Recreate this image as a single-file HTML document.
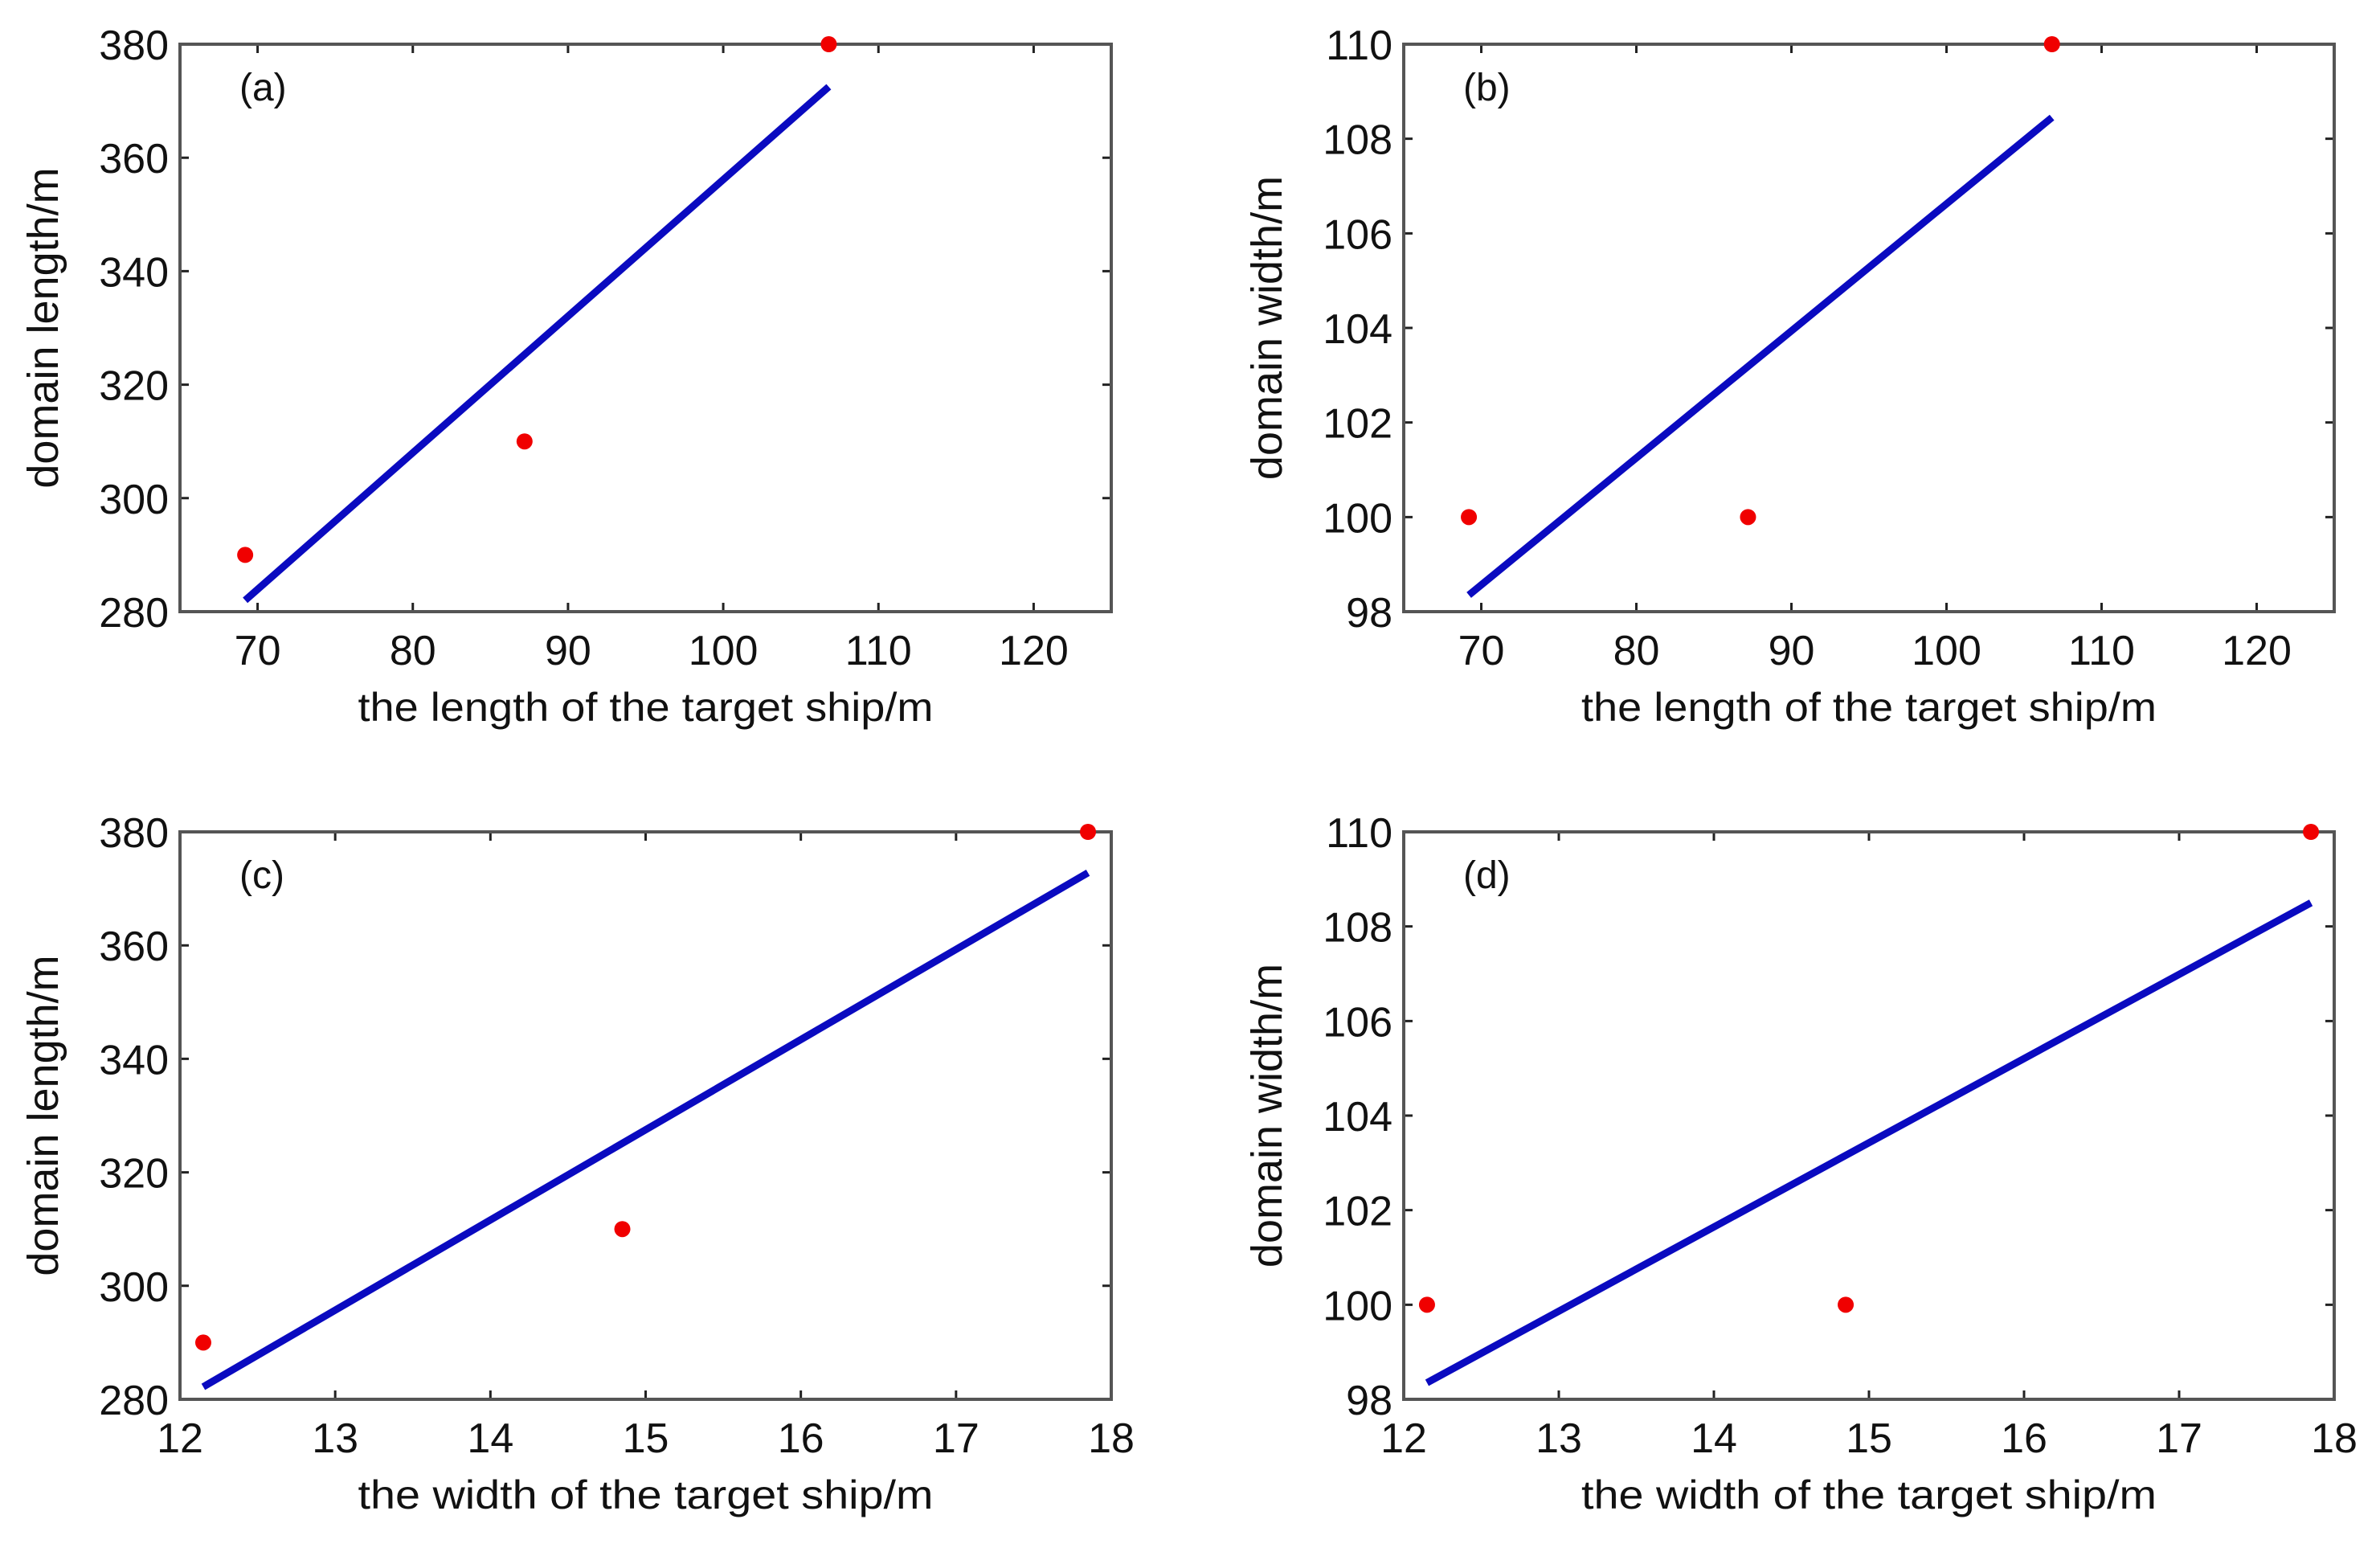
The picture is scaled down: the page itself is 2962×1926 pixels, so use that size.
<!DOCTYPE html>
<html><head><meta charset="utf-8"><style>
html,body{margin:0;padding:0;background:#fff;}
svg{display:block;font-family:"Liberation Sans",Arial,sans-serif;}
</style></head><body>
<svg id="fig" width="2962" height="1926" viewBox="0 0 2962 1926" xmlns="http://www.w3.org/2000/svg"></svg>
<script>
// ---- data ----
const shipLength = [69.2, 87.2, 106.8];
const shipWidth = [12.15, 14.85, 17.85];
const domainLength = [290, 310, 380];
const domainWidth = [100, 100, 110];
const fitLenX = [69.2, 106.8];
const fitLenDL = [282.0, 372.5];
const fitLenDW = [98.35, 108.45];
const fitWidX = [12.15, 17.85];
const fitWidDL = [282.2, 372.8];
const fitWidDW = [98.35, 108.5];
const xTicksLen = [70, 80, 90, 100, 110, 120];
const xTicksWid = [12, 13, 14, 15, 16, 17, 18];
const yTicksDL = [280, 300, 320, 340, 360, 380];
const yTicksDW = [98, 100, 102, 104, 106, 108, 110];

const NS = "http://www.w3.org/2000/svg";
const svg = document.getElementById('fig');
function mk(tag, attrs, parent){
  const e = document.createElementNS(NS, tag);
  for (const k in attrs) e.setAttribute(k, attrs[k]);
  (parent||svg).appendChild(e); return e;
}
const panels = [
  {id:'a', L:224, R:1383, T:55, B:761, xd:[65,125], yd:[280,380], xt:xTicksLen, yt:yTicksDL, px:shipLength, py:domainLength, fx:fitLenX, fy:fitLenDL, xl:'the length of the target ship/m', yl:'domain length/m'},
  {id:'b', L:1747, R:2905, T:55, B:761, xd:[65,125], yd:[98,110], xt:xTicksLen, yt:yTicksDW, px:shipLength, py:domainWidth, fx:fitLenX, fy:fitLenDW, xl:'the length of the target ship/m', yl:'domain width/m'},
  {id:'c', L:224, R:1383, T:1035, B:1741, xd:[12,18], yd:[280,380], xt:xTicksWid, yt:yTicksDL, px:shipWidth, py:domainLength, fx:fitWidX, fy:fitWidDL, xl:'the width of the target ship/m', yl:'domain length/m'},
  {id:'d', L:1747, R:2905, T:1035, B:1741, xd:[12,18], yd:[98,110], xt:xTicksWid, yt:yTicksDW, px:shipWidth, py:domainWidth, fx:fitWidX, fy:fitWidDW, xl:'the width of the target ship/m', yl:'domain width/m'}
];
panels.forEach(p=>{
  const g = mk('g', {});
  
  
  const sx = v => p.L + (v-p.xd[0])/(p.xd[1]-p.xd[0])*(p.R-p.L);
  const sy = v => p.B - (v-p.yd[0])/(p.yd[1]-p.yd[0])*(p.B-p.T);
  p.xt.forEach(t=>{
    const x = sx(t);
    const tk = mk('path', {d:`M${x} ${p.B}v-11M${x} ${p.T}v11`, stroke:'#222', 'stroke-width':3}, g);
    
    
    const tl = mk('text', {x:x, y:p.B+66, 'font-size':52, 'text-anchor':'middle', fill:'#111'}, g);
    tl.textContent = t;
    
    
  });
  p.yt.forEach(t=>{
    const y = sy(t);
    const tk = mk('path', {d:`M${p.L} ${y}h11M${p.R} ${y}h-11`, stroke:'#222', 'stroke-width':3}, g);
    
    
    const tl = mk('text', {x:p.L-14, y:y+19, 'font-size':52, 'text-anchor':'end', fill:'#111'}, g);
    tl.textContent = t;
    
    
  });
  const fr = mk('rect', {x:p.L, y:p.T, width:p.R-p.L, height:p.B-p.T, fill:'none', stroke:'#555', 'stroke-width':4}, g);
  
  
  const ln = mk('line', {x1:sx(p.fx[0]), y1:sy(p.fy[0]), x2:sx(p.fx[1]), y2:sy(p.fy[1]), stroke:'#0a0ac0', 'stroke-width':9}, g);
  
  
  p.px.forEach((v,i)=>{
    const c = mk('circle', {cx:sx(v), cy:sy(p.py[i]), r:10, fill:'#f00000'}, g);
    
    
  });
  const pl = mk('text', {x:p.L+74, y:p.T+70, 'font-size':48, fill:'#111'}, g);
  pl.textContent = '('+p.id+')';
  
  
  const xl = mk('text', {x:(p.L+p.R)/2, y:p.B+136, 'font-size':50, 'text-anchor':'middle', fill:'#111', textLength:716, lengthAdjust:'spacingAndGlyphs'}, g);
  xl.textContent = p.xl;
  
  
  const cy = (p.T+p.B)/2, cx = p.L-152;
  const yl = mk('text', {x:cx, y:cy, 'font-size':54, 'text-anchor':'middle', fill:'#111', transform:`rotate(-90 ${cx} ${cy})`}, g);
  yl.textContent = p.yl;
  
  
});
</script>
</body></html>
